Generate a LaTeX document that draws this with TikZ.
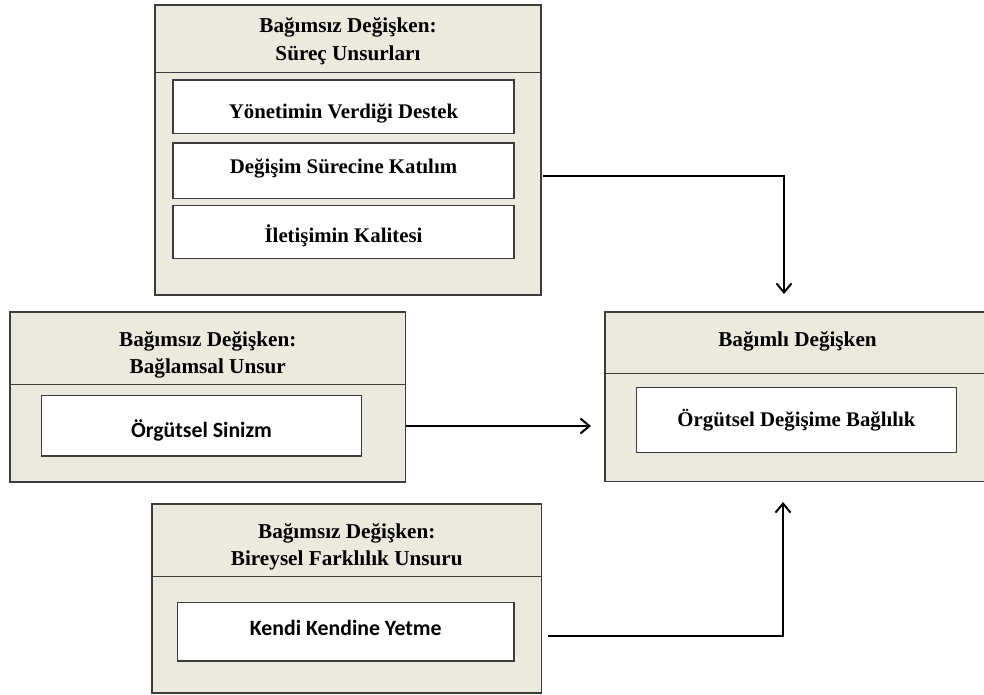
\documentclass[tikz,border=0pt]{standalone}
\usepackage{fontspec}
\setmainfont{Liberation Serif}
\newfontfamily\carl{Carlito}
\usetikzlibrary{arrows.meta,calc}
\definecolor{beige}{HTML}{ECE9DF}
\definecolor{edge}{HTML}{3C3C3C}
\tikzset{
  obox/.style={draw=edge, line width=1.2pt, fill=beige, inner sep=0pt},
  ibox/.style={draw=edge, line width=1.5pt, fill=white, inner sep=0pt},
  itext/.style={anchor=base, inner sep=0pt, font=\fontsize{20.8}{24}\selectfont\bfseries},
  stext/.style={anchor=base, inner sep=0pt, font=\fontsize{21.8}{24}\selectfont\carl\bfseries},
  head/.style={anchor=base, inner sep=0pt, font=\fontsize{21.2}{27}\selectfont\bfseries},
  divider/.style={draw=edge, line width=1pt},
  conn/.style={draw=black, line width=2pt,
    -{Straight Barb[length=9pt,width=15pt,line width=2pt]}}
}
\begin{document}
\begin{tikzpicture}[x=1pt,y=-1pt]
\useasboundingbox[fill=white] (0,0) rectangle (984,694);
% top box
\node[obox, minimum width=386pt, minimum height=290pt] (top) at (348,150) {};
\draw[divider] (155,72.5) coordinate (td1) -- (541,72.5) coordinate (td2);
\node[head] (toph1) at (348,32) {Bağımsız Değişken:};
\node[head] (toph2) at (348,60) {Süreç Unsurları};
\node[ibox, minimum width=341pt, minimum height=53.5pt] (y1) at (343.5,106.75) {};
\node[itext] (y1t) at (343.5,118) {Yönetimin Verdiği Destek};
\node[ibox, minimum width=341pt, minimum height=55.5pt] (y2) at (343.5,170.75) {};
\node[itext] (y2t) at (343.5,173.3) {Değişim Sürecine Katılım};
\node[ibox, minimum width=341pt, minimum height=53pt] (y3) at (343.5,232) {};
\node[itext] (y3t) at (343.5,242.3) {İletişimin Kalitesi};
% middle left box
\node[obox, minimum width=395.5pt, minimum height=170pt] (mid) at (207.75,397) {};
\draw[divider] (10,384) coordinate (md1) -- (405.5,384) coordinate (md2);
\node[head] (midh1) at (207.75,346.7) {Bağımsız Değişken:};
\node[head] (midh2) at (207.75,373.5) {Bağlamsal Unsur};
\node[ibox, minimum width=320pt, minimum height=60.5pt] (os) at (201.5,425.75) {};
\node[stext] (ost) at (201.5,437) {Örgütsel Sinizm};
% right box
\node[obox, minimum width=385pt, minimum height=169.5pt] (dep) at (797.5,396.75) {};
\draw[divider] (605,373) coordinate (rd1) -- (990,373) coordinate (rd2);
\node[head] (deph) at (797.5,346.7) {Bağımlı Değişken};
\node[ibox, minimum width=320pt, minimum height=65pt] (odb) at (796.5,420) {};
\node[itext] (odbt) at (796.5,426.7) {Örgütsel Değişime Bağlılık};
% bottom box
\node[obox, minimum width=389.5pt, minimum height=189pt] (bot) at (346.75,598.5) {};
\draw[divider] (152,576) coordinate (bd1) -- (541.5,576) coordinate (bd2);
\node[head] (both1) at (346.75,538.3) {Bağımsız Değişken:};
\node[head] (both2) at (346.75,565.5) {Bireysel Farklılık Unsuru};
\node[ibox, minimum width=336.5pt, minimum height=58.5pt] (kk) at (345.75,631.75) {};
\node[stext] (kkt) at (345.75,635) {Kendi Kendine Yetme};
% connectors
\coordinate (a1s) at (542.5,176);
\coordinate (a1c) at (784,176);
\coordinate (a1e) at (784,294);
\coordinate (a3s) at (548,636);
\coordinate (a3c) at (783,636);
\coordinate (a3e) at (783,502);
\coordinate (a2e) at (591,426);
\draw[conn] (a1s) -- (a1c) -- (a1e);
\draw[conn] (mid.east |- a2e) -- (a2e);
\draw[conn] (a3s) -- (a3c) -- (a3e);
\end{tikzpicture}
\end{document}
